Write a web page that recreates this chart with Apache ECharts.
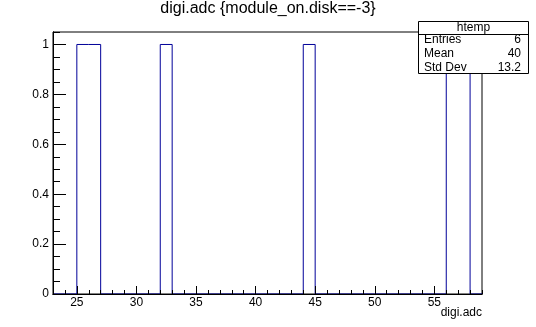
<!DOCTYPE html>
<html>
<head>
<meta charset="utf-8">
<script src="https://cdn.jsdelivr.net/npm/echarts@6/dist/echarts.min.js"></script>
<style>
html,body{margin:0;padding:0;background:#fff;}
#chart{width:536px;height:327px;}
</style>
</head>
<body>
<div id="chart"></div>
<script>
// Histogram bins: low edge of each bin (width 1) and bin contents
var binLowEdges = [23,24,25,26,27,28,29,30,31,32,33,34,35,36,37,38,39,40,41,42,43,44,45,46,47,48,49,50,51,52,53,54,55,56,57,58];
var binCounts   = [ 0, 0, 1, 1, 0, 0, 0, 0, 0, 1, 0, 0, 0, 0, 0, 0, 0, 0, 0, 0, 0, 1, 0, 0, 0, 0, 0, 0, 0, 0, 0, 0, 0, 1, 1, 0];
var xUpperEdge = 59;
var xTickLabels = [25, 30, 35, 40, 45, 50, 55];
var yTickLabels = [0, 0.2, 0.4, 0.6, 0.8, 1];
var yMax = 1.05;
var statsNames = ['Entries', 'Mean', 'Std Dev'];
var statsValues = ['6', '40', '13.2'];
var histName = 'htemp';
var titleText = 'digi.adc {module_on.disk==-3}';
var xTitle = 'digi.adc';

var stepData = binLowEdges.map(function (x, i) { return [x, binCounts[i]]; });
stepData.push([xUpperEdge, binCounts[binCounts.length - 1]]);

var FONT = '"Liberation Sans", Arial, Helvetica, sans-serif';
var chart = echarts.init(document.getElementById('chart'), null, {renderer: 'canvas'});

var gl = 53, gt = 32, gw = 429, gh = 262;
var bx = 418, by = 21, bw = 110, bh = 52;

var graphics = [
  {type: 'rect', z: 100, shape: {x: bx + 0.5, y: by + 0.5, width: bw, height: bh}, style: {fill: '#fff', stroke: '#000', lineWidth: 1}},
  {type: 'line', z: 101, shape: {x1: bx, y1: by + 13.5, x2: bx + bw, y2: by + 13.5}, style: {stroke: '#000', lineWidth: 1}},
  {type: 'text', z: 102, x: bx + bw / 2 + 0.5, y: by + 7, style: {text: histName, font: '12px ' + FONT, fill: '#000', align: 'center', verticalAlign: 'middle'}}
];
statsNames.forEach(function (n, i) {
  graphics.push({type: 'text', z: 102, x: bx + 6, y: by + 19 + i * 13.7, style: {text: n, font: '12px ' + FONT, fill: '#000', align: 'left', verticalAlign: 'middle'}});
  graphics.push({type: 'text', z: 102, x: bx + bw - 7, y: by + 19 + i * 13.7, style: {text: statsValues[i], font: '12px ' + FONT, fill: '#000', align: 'right', verticalAlign: 'middle'}});
});

var axisLineStyle = {show: true, lineStyle: {color: '#000', width: 1}};

chart.setOption({
  animation: false,
  backgroundColor: '#fff',
  title: {
    text: titleText, left: 'center', top: 1, padding: 0,
    textStyle: {fontFamily: FONT, fontSize: 16, fontWeight: 'normal', color: '#000'}
  },
  grid: {
    left: gl, top: gt, width: gw, height: gh,
    show: true, borderColor: '#000', borderWidth: 1, backgroundColor: 'transparent',
    outerBoundsMode: 'none'
  },
  xAxis: [
    {
      type: 'value', min: binLowEdges[0], max: xUpperEdge, interval: 1, position: 'bottom', z: 5,
      axisLine: axisLineStyle, splitLine: {show: false},
      axisTick: {show: true, inside: true, length: 4, lineStyle: {color: '#000'}},
      axisLabel: {show: false},
      name: xTitle, nameLocation: 'end', nameGap: 0,
      nameTextStyle: {fontFamily: FONT, fontSize: 12, color: '#000', align: 'right', verticalAlign: 'top', padding: [13, 0, 0, 0]}
    },
    {
      type: 'value', min: binLowEdges[0], max: xUpperEdge, position: 'bottom', z: 5,
      axisLine: axisLineStyle, splitLine: {show: false},
      axisTick: {show: true, inside: true, length: 8, customValues: xTickLabels, lineStyle: {color: '#000'}},
      axisLabel: {show: true, customValues: xTickLabels, margin: 3, fontFamily: FONT, fontSize: 12, color: '#000'}
    }
  ],
  yAxis: [
    {
      type: 'value', min: 0, max: yMax, interval: 0.05, position: 'left', z: 5,
      axisLine: axisLineStyle, splitLine: {show: false},
      axisTick: {show: true, inside: true, length: 7, lineStyle: {color: '#000'}},
      axisLabel: {show: false}
    },
    {
      type: 'value', min: 0, max: yMax, position: 'left', z: 5,
      axisLine: axisLineStyle, splitLine: {show: false},
      axisTick: {show: true, inside: true, length: 13, customValues: yTickLabels, lineStyle: {color: '#000'}},
      axisLabel: {show: true, customValues: yTickLabels, margin: 4, fontFamily: FONT, fontSize: 12, color: '#000'}
    }
  ],
  series: [{
    type: 'line', step: 'end', xAxisIndex: 0, yAxisIndex: 0, z: 2,
    data: stepData, symbol: 'none', silent: true,
    lineStyle: {color: '#000099', width: 1}
  }],
  graphic: graphics
});
</script>
</body>
</html>
